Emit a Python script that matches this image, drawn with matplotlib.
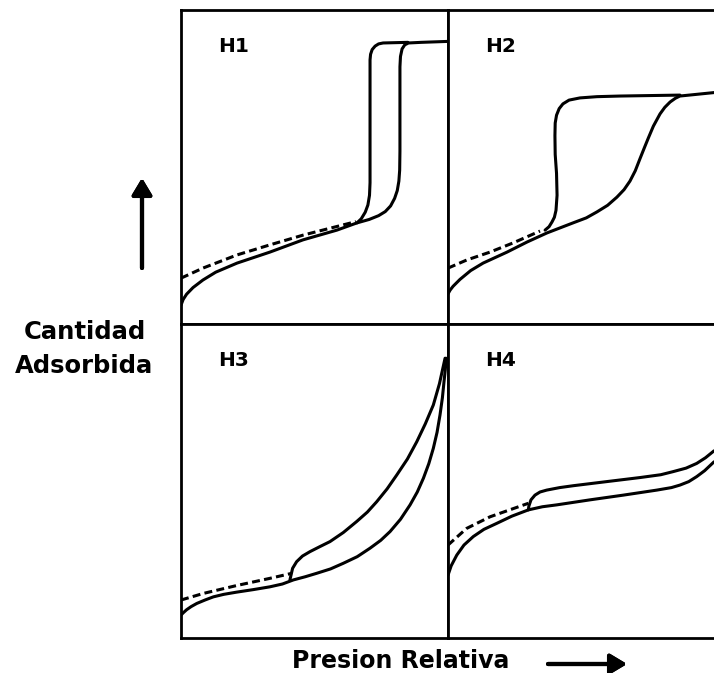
import numpy as np
import matplotlib.pyplot as plt

# normalised values: relative pressure (x) vs amount adsorbed (y)
h1_ads_x = [0.00, 0.008, 0.021, 0.045, 0.082, 0.13, 0.21, 0.333, 0.457, 0.584, 0.659, 0.705, 0.740, 0.765, 0.785, 0.800, 0.810, 0.816, 0.819, 0.820, 0.820, 0.822, 0.828, 0.838, 0.852, 0.90, 1.0]
h1_ads_y = [0.060, 0.078, 0.095, 0.116, 0.140, 0.165, 0.194, 0.229, 0.268, 0.299, 0.322, 0.333, 0.345, 0.358, 0.376, 0.400, 0.425, 0.455, 0.49, 0.55, 0.819, 0.852, 0.876, 0.889, 0.895, 0.897, 0.90]
h1_des_x = [0.659, 0.675, 0.690, 0.700, 0.706, 0.708, 0.708, 0.710, 0.716, 0.727, 0.740, 0.757, 0.85]
h1_des_y = [0.322, 0.335, 0.356, 0.379, 0.410, 0.45, 0.841, 0.859, 0.874, 0.885, 0.892, 0.895, 0.897]
h1_dash_x = [0.0, 0.082, 0.21, 0.333, 0.457, 0.655]
h1_dash_y = [0.146, 0.178, 0.22, 0.252, 0.283, 0.326]

h2_ads_x = [0.0, 0.008, 0.019, 0.045, 0.085, 0.132, 0.222, 0.297, 0.372, 0.470, 0.520, 0.560, 0.600, 0.635, 0.662, 0.684, 0.704, 0.722, 0.740, 0.753, 0.772, 0.797, 0.815, 0.835, 0.855, 0.872, 1.0]
h2_ads_y = [0.096, 0.108, 0.120, 0.142, 0.170, 0.194, 0.229, 0.261, 0.290, 0.322, 0.338, 0.357, 0.378, 0.404, 0.428, 0.455, 0.488, 0.527, 0.565, 0.592, 0.630, 0.669, 0.690, 0.707, 0.719, 0.726, 0.737]
h2_des_x = [0.365, 0.380, 0.391, 0.400, 0.406, 0.410, 0.408, 0.403, 0.402, 0.403, 0.408, 0.418, 0.432, 0.455, 0.496, 0.560, 0.647, 0.872]
h2_des_y = [0.299, 0.310, 0.325, 0.340, 0.362, 0.410, 0.480, 0.540, 0.600, 0.640, 0.665, 0.686, 0.701, 0.713, 0.720, 0.724, 0.726, 0.729]
h2_dash_x = [0.0, 0.071, 0.158, 0.244, 0.346]
h2_dash_y = [0.178, 0.204, 0.229, 0.258, 0.296]

h3_ads_x = [0.0, 0.008, 0.021, 0.038, 0.059, 0.090, 0.121, 0.160, 0.208, 0.270, 0.333, 0.380, 0.421, 0.465, 0.508, 0.560, 0.608, 0.660, 0.708, 0.748, 0.783, 0.822, 0.858, 0.885, 0.908, 0.928, 0.945, 0.959, 0.970, 0.979, 0.985, 0.990, 0.993]
h3_ads_y = [0.073, 0.080, 0.090, 0.100, 0.110, 0.121, 0.131, 0.139, 0.146, 0.154, 0.163, 0.172, 0.185, 0.195, 0.206, 0.220, 0.238, 0.259, 0.286, 0.311, 0.339, 0.378, 0.424, 0.465, 0.509, 0.555, 0.604, 0.655, 0.710, 0.765, 0.816, 0.855, 0.891]
h3_des_x = [0.408, 0.412, 0.418, 0.433, 0.455, 0.483, 0.520, 0.558, 0.608, 0.658, 0.698, 0.733, 0.772, 0.808, 0.848, 0.883, 0.915, 0.945, 0.968, 0.989]
h3_des_y = [0.185, 0.200, 0.222, 0.243, 0.261, 0.275, 0.291, 0.307, 0.336, 0.371, 0.401, 0.434, 0.475, 0.519, 0.570, 0.625, 0.682, 0.742, 0.810, 0.891]
h3_dash_x = [0.0, 0.084, 0.208, 0.333, 0.415]
h3_dash_y = [0.121, 0.142, 0.167, 0.190, 0.206]

h4_ads_x = [0.0, 0.012, 0.033, 0.060, 0.095, 0.135, 0.183, 0.240, 0.302, 0.355, 0.409, 0.534, 0.659, 0.785, 0.840, 0.872, 0.905, 0.935, 0.965, 1.0]
h4_ads_y = [0.200, 0.230, 0.264, 0.296, 0.323, 0.346, 0.365, 0.388, 0.408, 0.418, 0.424, 0.440, 0.455, 0.471, 0.479, 0.487, 0.498, 0.514, 0.533, 0.561]
h4_des_x = [0.302, 0.304, 0.312, 0.327, 0.346, 0.371, 0.420, 0.471, 0.596, 0.722, 0.800, 0.847, 0.895, 0.935, 0.968, 1.0]
h4_des_y = [0.408, 0.420, 0.440, 0.455, 0.465, 0.471, 0.479, 0.485, 0.498, 0.511, 0.520, 0.530, 0.541, 0.556, 0.574, 0.596]
h4_dash_x = [0.0, 0.07, 0.158, 0.302]
h4_dash_y = [0.296, 0.349, 0.386, 0.429]

labels = ["H1", "H2", "H3", "H4"]

panels = [
    (h1_ads_x, h1_ads_y, h1_des_x, h1_des_y, h1_dash_x, h1_dash_y),
    (h2_ads_x, h2_ads_y, h2_des_x, h2_des_y, h2_dash_x, h2_dash_y),
    (h3_ads_x, h3_ads_y, h3_des_x, h3_des_y, h3_dash_x, h3_dash_y),
    (h4_ads_x, h4_ads_y, h4_des_x, h4_des_y, h4_dash_x, h4_dash_y),
]

fig = plt.figure(figsize=(7.14, 6.73), dpi=100)
W, H = 714, 673
left, mid, right = 181, 448, 714
top, hmid, bottom = 10, 324, 638
boxes = [
    (left, top, mid, hmid), (mid, top, right, hmid),
    (left, hmid, mid, bottom), (mid, hmid, right, bottom),
]

lw = 2.2
for i, (box, data) in enumerate(zip(boxes, panels)):
    x0, y0, x1, y1 = box
    ax = fig.add_axes([x0 / W, 1 - y1 / H, (x1 - x0) / W, (y1 - y0) / H])
    ax.set_xlim(0, 1)
    ax.set_ylim(0, 1)
    ax.set_xticks([])
    ax.set_yticks([])
    for s in ax.spines.values():
        s.set_linewidth(2.0)
    if i % 2 == 1:
        ax.spines["right"].set_visible(False)
    ax_x, ax_y, de_x, de_y, da_x, da_y = data
    kw = dict(color="black", lw=lw, solid_capstyle="round", solid_joinstyle="round")
    ax.plot(ax_x, ax_y, **kw)
    ax.plot(de_x, de_y, **kw)
    ax.plot(da_x, da_y, color="black", lw=lw, dashes=(2.6, 1.4))
    ax.text(0.139, 0.883, labels[i], transform=ax.transAxes, fontsize=14.5,
            fontweight="bold", va="center", ha="left", color="black")

fig.text(85 / W, 1 - 332 / H, "Cantidad", ha="center", va="center",
         fontsize=17.5, fontweight="bold")
fig.text(84 / W, 1 - 366 / H, "Adsorbida", ha="center", va="center",
         fontsize=17.5, fontweight="bold")
fig.text(401 / W, 1 - 661 / H, "Presion Relativa", ha="center", va="center",
         fontsize=17, fontweight="bold")

arrow = dict(arrowstyle="-|>,head_length=0.5,head_width=0.3", lw=3, color="black",
             mutation_scale=20, shrinkA=0, shrinkB=0)
fig.add_artist(plt.annotate("", xy=(142, H - 178), xytext=(142, H - 268),
                            xycoords="figure pixels", textcoords="figure pixels",
                            arrowprops=arrow))
fig.add_artist(plt.annotate("", xy=(627, H - 664), xytext=(548, H - 664),
                            xycoords="figure pixels", textcoords="figure pixels",
                            arrowprops=arrow))

plt.savefig("out.png", dpi=100)
